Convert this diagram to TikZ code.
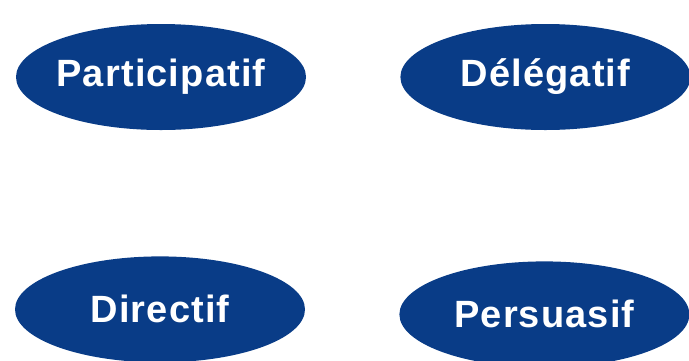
\documentclass[tikz,border=0pt]{standalone}
\usepackage{fontspec}
\setmainfont{Liberation Sans}
\usetikzlibrary{shapes.geometric, positioning}
\definecolor{styleblue}{RGB}{9,60,135}

\begin{document}
\begin{tikzpicture}[x=1pt, y=-1pt,
    mode/.style={ellipse, fill=styleblue, text=white, minimum width=290pt, minimum height=106pt, inner xsep=-30pt, inner ysep=0pt, font=\fontsize{38}{38}\selectfont\bfseries\addfontfeature{LetterSpace=3}}]
    \useasboundingbox (0,0) rectangle (689,360);
    \node [mode] (part) at (161,77) {Participatif};
    \node [mode, right=94pt of part] (deleg) {Délégatif};
    \node [mode, below=126pt of part, xshift=-1pt] (direct) {Directif};
    \node [mode, right=94pt of direct, yshift=-5pt] (persu) {Persuasif};
\end{tikzpicture}
\end{document}
